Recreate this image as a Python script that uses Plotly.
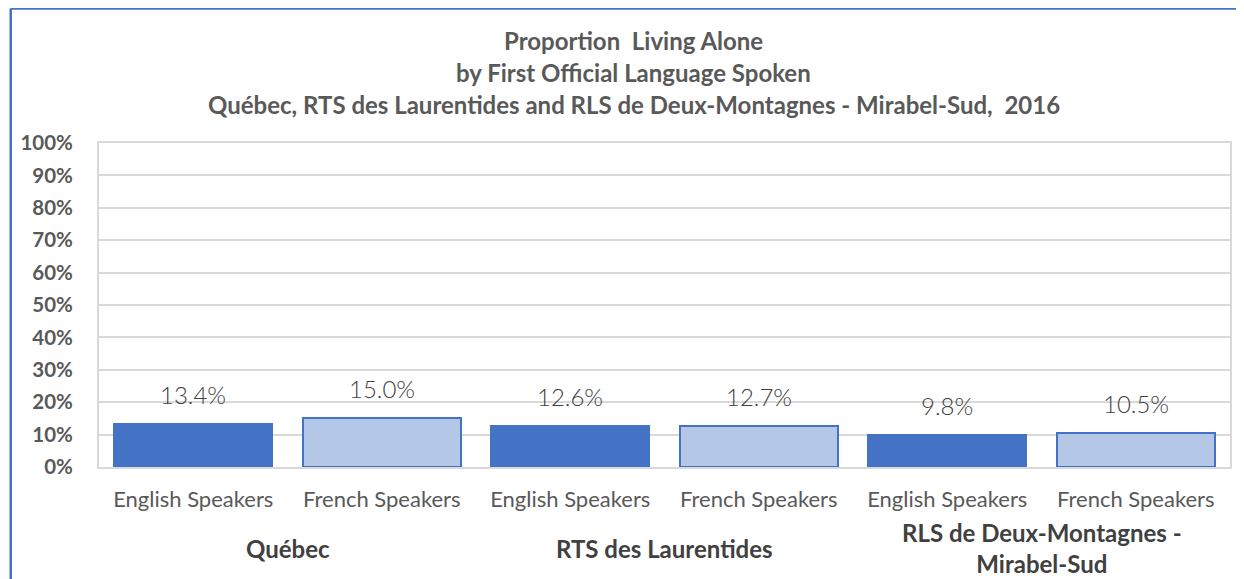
import plotly.graph_objects as go

# ---- data ----
groups = ["Québec", "RTS des Laurentides", "RLS de Deux-Montagnes - Mirabel-Sud"]
speakers = ["English Speakers", "French Speakers"]
values = [13.4, 15.0, 12.6, 12.7, 9.8, 10.5]  # percent
title_lines = [
    "Proportion  Living Alone",
    "by First Official Language Spoken",
    "Québec, RTS des Laurentides and RLS de Deux-Montagnes - Mirabel-Sud,  2016",
]
y_ticks = list(range(0, 101, 10))

# the page body has an 8px margin, so the figure starts at (8, 8) on screen
OFF = 8
SW, SH = 1244, 579
W, H = SW - OFF, SH - OFF
PL, PR, PT, PB = 97, 1231, 143, 467  # plot area on screen
L, R, T, B = PL - OFF, SW - PR, PT - OFF, SH - PB
pw, ph = PR - PL, PB - PT

def px_x(p):
    return (p - PL) / pw

def px_y(p):
    return (PB - p) / ph

DARK = "#4472C4"
LIGHT = "#B4C7E7"
GREY = "#595959"
FONT = "Lato"

n = len(groups) * len(speakers)
xs = list(range(n))
cat_labels = [speakers[i % len(speakers)] for i in range(n)]
fills = [DARK if i % 2 == 0 else LIGHT for i in range(n)]

fig = go.Figure()
fig.add_trace(go.Bar(
    x=xs, y=[v / 100 for v in values], width=0.836,
    marker=dict(color=fills, line=dict(color=DARK, width=2)),
    hoverinfo="skip", showlegend=False,
))

annotations = []
# data labels
for x, v in zip(xs, values):
    annotations.append(dict(
        x=x, y=v / 100, xref="x", yref="y", text=f"{v:.1f}%",
        showarrow=False, yanchor="bottom", yshift=13,
        font=dict(family=FONT, size=24, color="#404040", weight=300),
    ))
# group labels
for gi, g in enumerate(groups):
    annotations.append(dict(
        x=gi * 2 + 0.5, y=px_y(548), xref="x", yref="paper",
        text=g.replace(" - ", " -<br>"), showarrow=False, yanchor="middle",
        font=dict(family=FONT, size=24, color="#404040", weight="bold"),
    ))
# title lines
for i, line in enumerate(title_lines):
    annotations.append(dict(
        x=px_x(633), y=px_y(41 + 32 * i), xref="paper", yref="paper",
        text=line, showarrow=False, xanchor="center", yanchor="middle",
        font=dict(family=FONT, size=24, color=GREY, weight="bold"),
    ))

shapes = [
    dict(type="line", xref="paper", yref="paper",
         x0=px_x(8.5), x1=px_x(8.5), y0=px_y(8.5), y1=px_y(600),
         line=dict(color=DARK, width=2.5)),
    dict(type="line", xref="paper", yref="paper",
         x0=px_x(8.5), x1=px_x(1260), y0=px_y(8.5), y1=px_y(8.5),
         line=dict(color=DARK, width=2.5)),
]

fig.update_layout(
    width=W, height=H,
    margin=dict(l=L, r=R, t=T, b=B),
    paper_bgcolor="white", plot_bgcolor="white",
    annotations=annotations, shapes=shapes,
    xaxis=dict(
        tickmode="array", tickvals=xs, ticktext=cat_labels,
        range=[-0.5, n - 0.5], showgrid=False, zeroline=False,
        showline=True, linecolor="#D9D9D9", linewidth=2, mirror=True,
        ticks="", ticklabelstandoff=12,
        tickfont=dict(family=FONT, size=22, color=GREY),
    ),
    yaxis=dict(
        range=[0, 1], tickmode="array",
        tickvals=[t / 100 for t in y_ticks], ticktext=[f"{t}%" for t in y_ticks],
        showgrid=True, gridcolor="#D9D9D9", gridwidth=1.5,
        showline=True, linecolor="#D9D9D9", linewidth=2, mirror=True,
        zeroline=False, ticks="", ticklabelstandoff=20,
        tickfont=dict(family=FONT, size=20.5, color=GREY, weight="bold"),
    ),
    bargap=0,
)

fig.write_html("out.html")
